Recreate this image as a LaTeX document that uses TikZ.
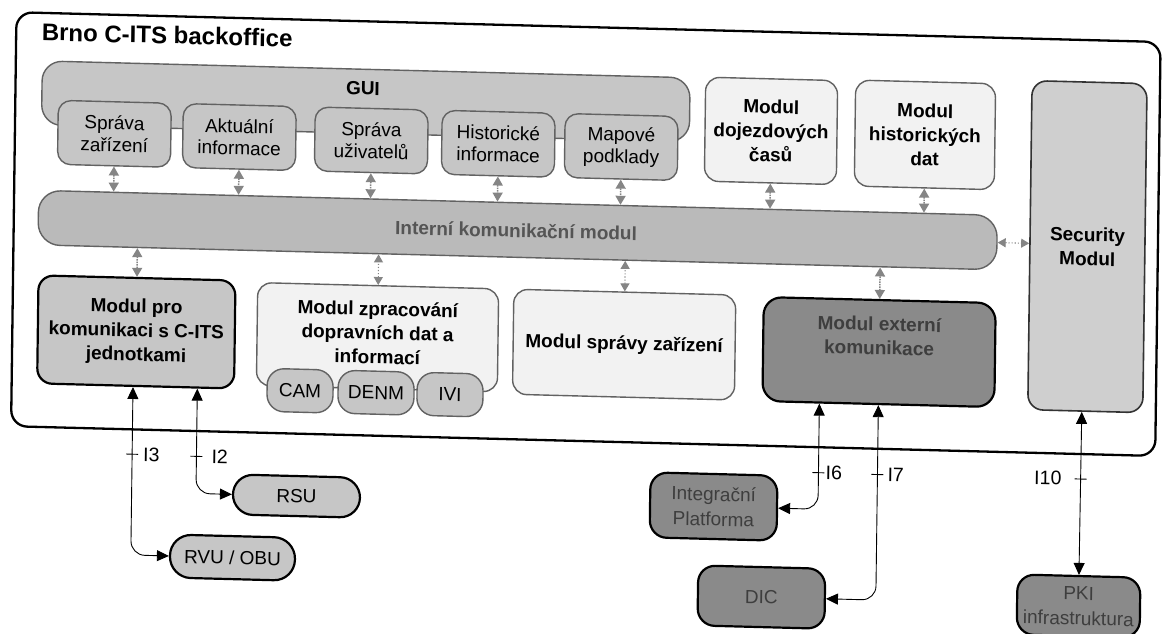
\documentclass[tikz,border=0pt]{standalone}
\usepackage{fontspec}
\setmainfont{Liberation Sans}
\usetikzlibrary{arrows.meta,calc}
\definecolor{gfill}{HTML}{C6C6C6}
\definecolor{lfill}{HTML}{F2F2F2}
\definecolor{dfill}{HTML}{8A8A8A}
\definecolor{bfill}{HTML}{BABABA}
\definecolor{sfill}{HTML}{CFCFCF}
\definecolor{gborder}{HTML}{626262}
\definecolor{dtext}{HTML}{3E3E3E}
\definecolor{bartext}{HTML}{555555}
\definecolor{arrgray}{HTML}{858585}
\begin{document}
\begin{tikzpicture}[x=1pt,y=-1pt,
  sz/.style 2 args={minimum width=#1pt, minimum height=#2pt},
  bx/.style={rectangle, align=center, inner sep=0pt, rounded corners=14pt,
    font=\bfseries\fontsize{19}{24}\selectfont},
  outerframe/.style={rectangle, draw=black, line width=2.3pt, fill=white, rounded corners=16pt},
  lightbox/.style={bx, fill=lfill, draw=gborder, line width=1.4pt},
  graybox/.style={bx, fill=gfill, draw=gborder, line width=1.4pt},
  subbox/.style={graybox, rounded corners=13pt, font=\fontsize{19}{22}\selectfont},
  msgbox/.style={graybox, rounded corners=17pt, font=\fontsize{19}{22}\selectfont},
  blackbox/.style={bx, fill=gfill, draw=black, line width=2.2pt},
  darkbox/.style={bx, fill=dfill, draw=black, line width=2.2pt, text=dtext},
  outbox/.style={darkbox, font=\fontsize{19}{25}\selectfont, rounded corners=17pt},
  pill/.style={bx, fill=gfill, draw=black, line width=2.2pt, rounded corners=20pt,
    font=\fontsize{19}{22}\selectfont},
  intarr/.style={draw=arrgray, line width=1.5pt, densely dotted,
    arrows={Triangle[length=9pt,width=10pt]-Triangle[length=9pt,width=10pt]}},
  dotarr/.style={draw=arrgray, line width=1.1pt, dotted,
    arrows={Triangle[length=8pt,width=9pt]-Triangle[length=8pt,width=9pt]}},
  extarr/.style={draw=black, line width=0.9pt, rounded corners=14pt,
    arrows={Triangle[length=12pt,width=11pt]-Triangle[length=12pt,width=11pt]}},
  tickst/.style={draw=black, line width=0.9pt},
  lbl/.style={inner sep=0pt, font=\fontsize{19.5}{22}\selectfont}
]
\useasboundingbox (0,0) rectangle (1162,634);
\begin{scope}[shift={(581,317)}, xslant=0.013, yslant=-0.026, shift={(-581,-317)}, transform shape]

% container
\node[outerframe, sz={1144.5}{414}] (frame) at (584.75,234) {};
\node[anchor=west, inner sep=0pt, font=\bfseries\fontsize{24}{28}\selectfont] (title) at (38,46) {Brno C-ITS backoffice};

% GUI group
\node[graybox, sz={648}{64}, rounded corners=20pt] (gui) at (363,107) {};
\node[inner sep=0pt, font=\bfseries\fontsize{19}{24}\selectfont] (guiT) at (360,94) {GUI};
\node[subbox, sz={113}{64}] (s1) at (112,146) {Správa\\zařízení};
\node[subbox, sz={113}{64}] (s2) at (237,146) {Aktuální\\informace};
\node[subbox, sz={113}{64}] (s3) at (369,146) {Správa\\uživatelů};
\node[subbox, sz={113}{64}] (s4) at (496,146) {Historické\\informace};
\node[subbox, sz={113}{64}] (s5) at (619,146) {Mapové\\podklady};

% upper modules
\node[lightbox, sz={132}{104}] (doj) at (768.6,126) {Modul\\dojezdových\\časů};
\node[lightbox, sz={140}{106}] (hist) at (922.6,126) {Modul\\historických\\dat};
\node[bx, fill=sfill, draw=black!80, line width=1.6pt, sz={115}{329}, rounded corners=15pt] (sec) at (1086.5,233.5) {Security\\Modul};

% internal bus
\node[bx, fill=bfill, draw=gborder, line width=1.4pt, sz={959}{54.5}, rounded corners=22pt] (bar) at (516.5,231.75) {};
\node[inner sep=0pt, text=bartext, font=\bfseries\fontsize{19}{24}\selectfont] (barT) at (515,232) {Interní komunikační modul};

% lower modules
\node[blackbox, sz={197}{108}, rounded corners=15pt] (modpro) at (136.5,343.5) {Modul pro\\komunikaci s C-ITS\\jednotkami};
\node[lightbox, sz={241}{103}] (zpr) at (377.8,342.5) {};
\node[inner sep=0pt, align=center, font=\bfseries\fontsize{19}{24}\selectfont] (zprT) at (377.8,338) {Modul zpracování\\dopravních dat a\\informací};
\node[msgbox, sz={66}{43}] (cam) at (301,398) {CAM};
\node[msgbox, sz={76}{43}] (denm) at (377,398) {DENM};
\node[msgbox, sz={66}{43}] (ivi) at (451,398) {IVI};
\node[lightbox, sz={222}{105}] (spr) at (624.5,343.5) {Modul správy zařízení};
\node[darkbox, sz={232}{104}, rounded corners=18pt] (ext) at (879.5,344.3) {};
\node[inner sep=0pt, align=center, text=dtext, font=\bfseries\fontsize{19}{24}\selectfont] (extT) at (879.5,328) {Modul externí\\komunikace};

% outside entities
\node[pill, sz={127}{40}] (rsu) at (298.8,503.4) {RSU};
\node[pill, sz={125}{43}, rounded corners=21pt] (rvu) at (235.6,566.6) {RVU / OBU};
\node[outbox, sz={127}{65}] (integ) at (716,503) {Integrační\\Platforma};
\node[outbox, sz={127}{60}] (dic) at (765,592.3) {DIC};
\node[outbox, sz={123}{60}] (pki) at (1082.3,593) {PKI\\infrastruktura};

% internal connectors
\foreach \n in {s1,s2,s3,s4,s5,doj,hist}{
  \draw[intarr] (\n.south) -- ($(bar.north west)!(\n.south)!(bar.north east)$);
}
\draw[intarr] (modpro.north) -- ($(bar.south west)!(modpro.north)!(bar.south east)$);
\draw[dotarr] (zpr.north) -- ($(bar.south west)!(zpr.north)!(bar.south east)$);
\draw[dotarr] (spr.north) -- ($(bar.south west)!(spr.north)!(bar.south east)$);
\draw[intarr] (ext.north) -- ($(bar.south west)!(ext.north)!(bar.south east)$);
\draw[dotarr] (bar.east) -- ($(sec.north west)!(bar.east)!(sec.south west)$);

% external connectors
\draw[extarr] ($(modpro.south west)!0.487!(modpro.south east)$) |- coordinate[pos=0.2] (t3) (rvu.west);
\draw[extarr] ($(modpro.south west)!0.81!(modpro.south east)$) |- coordinate[pos=0.323] (t2) (rsu.west);
\draw[extarr] ($(ext.south west)!0.248!(ext.south east)$) |- coordinate[pos=0.327] (t6) (integ.east);
\draw[extarr] (ext.south) |- coordinate[pos=0.178] (t7) (dic.east);
\draw[extarr] ($(sec.south west)!0.47!(sec.south east)$) -- coordinate[pos=0.412] (t10) (pki.north);

% ticks and labels
\foreach \t in {t3,t2,t6,t7,t10}{
  \draw[tickst] ([xshift=-6pt]\t) -- ([xshift=6pt]\t);
}
\node[lbl, anchor=west] (l3) at ([xshift=11pt]t3) {I3};
\node[lbl, anchor=west] (l2) at ([xshift=15pt]t2) {I2};
\node[lbl, anchor=west] (l6) at ([xshift=7pt]t6) {I6};
\node[lbl, anchor=west] (l7) at ([xshift=10pt]t7) {I7};
\node[lbl, anchor=east] (l10) at ([xshift=-19pt]t10) {I10};
\end{scope}
\end{tikzpicture}
\end{document}
